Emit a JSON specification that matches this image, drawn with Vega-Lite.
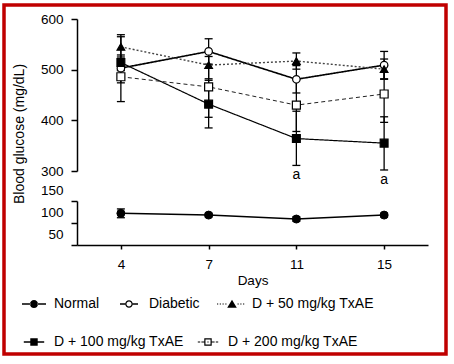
{
  "$schema": "https://vega.github.io/schema/vega-lite/v6.json",
  "width": 442,
  "height": 349,
  "padding": {"left": 4, "top": 5, "right": 8, "bottom": 10},
  "background": "white",
  "config": {
    "view": {"stroke": "#c00000", "strokeWidth": 3.5, "fill": "white"},
    "font": "Liberation Sans",
    "axis": {
      "domainColor": "black", "tickColor": "black", "domainWidth": 1.5, "tickWidth": 1.5,
      "labelColor": "black", "labelFont": "Liberation Sans", "labelFontSize": 13.5,
      "titleFont": "Liberation Sans", "titleFontSize": 14, "titleFontWeight": "normal", "titleColor": "black",
      "grid": false
    },
    "legend": {
      "title": null, "orient": "none", "direction": "horizontal",
      "symbolSize": 576, "symbolStrokeWidth": 0, "symbolFillColor": "black", "symbolOpacity": 1,
      "labelFontSize": 14, "labelFont": "Liberation Sans", "labelColor": "black", "labelOffset": 8, "padding": 0, "labelLimit": 0
    }
  },
  "datasets": {
    "glucose": [
      {"group": "Normal", "day": 4, "mean": 122, "low": 112, "high": 132, "sig": ""},
      {"group": "Normal", "day": 7, "mean": 118, "low": 114, "high": 122, "sig": ""},
      {"group": "Normal", "day": 11, "mean": 109, "low": 104, "high": 114, "sig": ""},
      {"group": "Normal", "day": 15, "mean": 118, "low": 114, "high": 122, "sig": ""},
      {"group": "Diabetic", "day": 4, "mean": 503, "low": 437, "high": 569, "sig": ""},
      {"group": "Diabetic", "day": 7, "mean": 536, "low": 511, "high": 561, "sig": ""},
      {"group": "Diabetic", "day": 11, "mean": 481, "low": 454, "high": 508, "sig": ""},
      {"group": "Diabetic", "day": 15, "mean": 509, "low": 482, "high": 536, "sig": ""},
      {"group": "D + 50 mg/kg TxAE", "day": 4, "mean": 545, "low": 525, "high": 565, "sig": ""},
      {"group": "D + 50 mg/kg TxAE", "day": 7, "mean": 509, "low": 482, "high": 536, "sig": ""},
      {"group": "D + 50 mg/kg TxAE", "day": 11, "mean": 517, "low": 501, "high": 533, "sig": ""},
      {"group": "D + 50 mg/kg TxAE", "day": 15, "mean": 501, "low": 481, "high": 521, "sig": ""},
      {"group": "D + 100 mg/kg TxAE", "day": 4, "mean": 514, "low": 499, "high": 529, "sig": ""},
      {"group": "D + 100 mg/kg TxAE", "day": 7, "mean": 432, "low": 385, "high": 479, "sig": ""},
      {"group": "D + 100 mg/kg TxAE", "day": 11, "mean": 364, "low": 311, "high": 418, "sig": "a"},
      {"group": "D + 100 mg/kg TxAE", "day": 15, "mean": 355, "low": 302, "high": 407, "sig": "a"},
      {"group": "D + 200 mg/kg TxAE", "day": 4, "mean": 486, "low": 474, "high": 498, "sig": ""},
      {"group": "D + 200 mg/kg TxAE", "day": 7, "mean": 466, "low": 406, "high": 526, "sig": ""},
      {"group": "D + 200 mg/kg TxAE", "day": 11, "mean": 430, "low": 378, "high": 482, "sig": ""},
      {"group": "D + 200 mg/kg TxAE", "day": 15, "mean": 452, "low": 396, "high": 508, "sig": ""}
    ]
  },
  "data": {"name": "glucose"},
  "encoding": {
    "x": {
      "field": "day", "type": "ordinal",
      "scale": {"type": "point", "domain": [4, 7, 11, 15], "range": [73, 424], "padding": 0.5},
      "axis": {"orient": "bottom", "offset": -109, "labelAngle": 0, "tickSize": 4, "labelPadding": 8, "title": "Days", "titlePadding": 3, "titleFontSize": 13.5}
    }
  },
  "resolve": {
    "scale": {"y": "independent", "shape": "independent", "fill": "independent", "strokeDash": "independent", "strokeWidth": "independent", "size": "independent", "color": "independent"},
    "axis": {"y": "independent"},
    "legend": {"shape": "independent"}
  },
  "layer": [
    {
      "transform": [{"filter": {"not": {"field": "group", "equal": "Normal"}}}],
      "encoding": {
        "y": {
          "field": "mean", "type": "quantitative",
          "scale": {"domain": [300, 600], "range": [166, 14], "nice": false, "zero": false},
          "axis": {"orient": "left", "offset": -73, "values": [300, 400, 500, 600], "tickSize": 6, "labelPadding": 8,
                   "title": "Blood glucose (mg/dL)", "titleX": -57.5, "titleY": 128.5, "titleAngle": -90, "titleBaseline": "middle", "titleAlign": "center"}
        }
      },
      "layer": [
        {
          "mark": {"type": "line"},
          "encoding": {
            "detail": {"field": "group", "type": "nominal"},
            "color": {"field": "group", "type": "nominal", "legend": null,
              "scale": {"domain": ["Diabetic", "D + 50 mg/kg TxAE", "D + 100 mg/kg TxAE", "D + 200 mg/kg TxAE"], "range": ["black", "#444444", "black", "#222222"]}},
            "strokeDash": {"field": "group", "type": "nominal", "legend": null,
              "scale": {"domain": ["Diabetic", "D + 50 mg/kg TxAE", "D + 100 mg/kg TxAE", "D + 200 mg/kg TxAE"], "range": [[1, 0], [2, 2], [1, 0], [4, 3]]}},
            "strokeWidth": {"field": "group", "type": "nominal", "legend": null,
              "scale": {"domain": ["Diabetic", "D + 50 mg/kg TxAE", "D + 100 mg/kg TxAE", "D + 200 mg/kg TxAE"], "range": [1.6, 1, 1.6, 1.2]}}
          }
        },
        {
          "mark": {"type": "rule", "color": "black", "strokeWidth": 1.3},
          "encoding": {"y": {"field": "low", "type": "quantitative"}, "y2": {"field": "high"}}
        },
        {
          "mark": {"type": "tick", "color": "black", "thickness": 1.3, "size": 8, "opacity": 1},
          "encoding": {"y": {"field": "low", "type": "quantitative"}}
        },
        {
          "mark": {"type": "tick", "color": "black", "thickness": 1.3, "size": 8, "opacity": 1},
          "encoding": {"y": {"field": "high", "type": "quantitative"}}
        },
        {
          "mark": {"type": "point", "filled": true, "stroke": "black", "strokeWidth": 1.2, "opacity": 1},
          "encoding": {
            "shape": {"field": "group", "type": "nominal", "legend": null,
              "scale": {"domain": ["Diabetic", "D + 50 mg/kg TxAE", "D + 100 mg/kg TxAE", "D + 200 mg/kg TxAE"], "range": ["circle", "triangle-up", "square", "square"]}},
            "fill": {"field": "group", "type": "nominal", "legend": null,
              "scale": {"domain": ["Diabetic", "D + 50 mg/kg TxAE", "D + 100 mg/kg TxAE", "D + 200 mg/kg TxAE"], "range": ["white", "black", "black", "white"]}},
            "size": {"field": "group", "type": "nominal", "legend": null,
              "scale": {"domain": ["Diabetic", "D + 50 mg/kg TxAE", "D + 100 mg/kg TxAE", "D + 200 mg/kg TxAE"], "range": [56, 64, 49, 49]}}
          }
        },
        {
          "transform": [{"filter": {"field": "sig", "equal": "a"}}],
          "mark": {"type": "text", "dy": 10, "fontSize": 14, "baseline": "middle", "color": "black", "font": "Liberation Sans"},
          "encoding": {"y": {"field": "low", "type": "quantitative"}, "text": {"field": "sig"}}
        }
      ]
    },
    {
      "transform": [{"filter": {"field": "group", "equal": "Normal"}}],
      "encoding": {
        "y": {
          "field": "mean", "type": "quantitative",
          "scale": {"domain": [50, 150], "range": [240, 196], "nice": false, "zero": false},
          "axis": {"orient": "left", "offset": -73, "values": [50, 100, 150], "labelOffset": -11, "tickSize": 6, "labelPadding": 8, "title": null}
        }
      },
      "layer": [
        {"mark": {"type": "line", "color": "black", "strokeWidth": 1.5}},
        {
          "mark": {"type": "rule", "color": "black", "strokeWidth": 1.3},
          "encoding": {"y": {"field": "low", "type": "quantitative"}, "y2": {"field": "high"}}
        },
        {
          "mark": {"type": "tick", "color": "black", "thickness": 1.3, "size": 8, "opacity": 1},
          "encoding": {"y": {"field": "low", "type": "quantitative"}}
        },
        {
          "mark": {"type": "tick", "color": "black", "thickness": 1.3, "size": 8, "opacity": 1},
          "encoding": {"y": {"field": "high", "type": "quantitative"}}
        },
        {"mark": {"type": "point", "shape": "circle", "filled": true, "fill": "black", "stroke": "black", "strokeWidth": 1, "size": 64, "opacity": 1}}
      ]
    },
    {
      "transform": [{"filter": {"field": "group", "oneOf": ["Normal", "Diabetic", "D + 50 mg/kg TxAE"]}}],
      "mark": {"type": "point", "filled": true, "fill": "black", "stroke": "black", "strokeWidth": 1.5, "opacity": 0},
      "encoding": {
        "shape": {"field": "group", "type": "nominal",
          "scale": {"domain": ["Normal", "Diabetic", "D + 50 mg/kg TxAE"],
            "range": [
              "M-1,-0.065H-0.3V0.065H-1ZM0.3,-0.065H1V0.065H0.3ZM-0.34,0A0.34,0.34,0,1,0,0.34,0A0.34,0.34,0,1,0,-0.34,0Z",
              "M-0.75,-0.06H-0.3V0.06H-0.75ZM0.3,-0.06H0.75V0.06H0.3ZM-0.31,0A0.31,0.31,0,1,0,0.31,0A0.31,0.31,0,1,0,-0.31,0ZM-0.21,0A0.21,0.21,0,1,1,0.21,0A0.21,0.21,0,1,1,-0.21,0Z",
              "M-1.25,-0.045H-1.15V0.045H-1.25ZM-1.02,-0.045H-0.92V0.045H-1.02ZM-0.79,-0.045H-0.69V0.045H-0.79ZM-0.56,-0.045H-0.46V0.045H-0.56ZM0.46,-0.045H0.56V0.045H0.46ZM0.69,-0.045H0.79V0.045H0.69ZM0.92,-0.045H1.02V0.045H0.92ZM0,-0.36L0.4,0.32L-0.4,0.32Z"
            ]},
          "legend": {"legendX": 18, "legendY": 287, "columnPadding": 17,
            "encode": {"symbols": {"strokeWidth": {"value": 0}, "fill": {"value": "black"}, "opacity": {"value": 1}, "fillOpacity": {"value": 1}, "size": {"value": 576}}}}}
      }
    },
    {
      "transform": [{"filter": {"field": "group", "oneOf": ["D + 100 mg/kg TxAE", "D + 200 mg/kg TxAE"]}}],
      "mark": {"type": "point", "filled": true, "fill": "black", "stroke": "black", "strokeWidth": 1.5, "opacity": 0},
      "encoding": {
        "shape": {"field": "group", "type": "nominal",
          "scale": {"domain": ["D + 100 mg/kg TxAE", "D + 200 mg/kg TxAE"],
            "range": [
              "M-0.85,-0.065H-0.3V0.065H-0.85ZM0.3,-0.065H0.85V0.065H0.3ZM-0.31,-0.31H0.31V0.31H-0.31Z",
              "M-0.85,-0.05H-0.65V0.05H-0.85ZM-0.55,-0.05H-0.31V0.05H-0.55ZM0.31,-0.05H0.55V0.05H0.31ZM0.65,-0.05H0.85V0.05H0.65ZM-0.31,-0.31H0.31V0.31H-0.31ZM-0.21,-0.21V0.21H0.21V-0.21ZM-0.05,-0.05H0.05V0.05H-0.05Z"
            ]},
          "legend": {"legendX": 18, "legendY": 325, "columnPadding": 12,
            "encode": {"symbols": {"strokeWidth": {"value": 0}, "fill": {"value": "black"}, "opacity": {"value": 1}, "fillOpacity": {"value": 1}, "size": {"value": 576}}}}}
      }
    }
  ]
}
